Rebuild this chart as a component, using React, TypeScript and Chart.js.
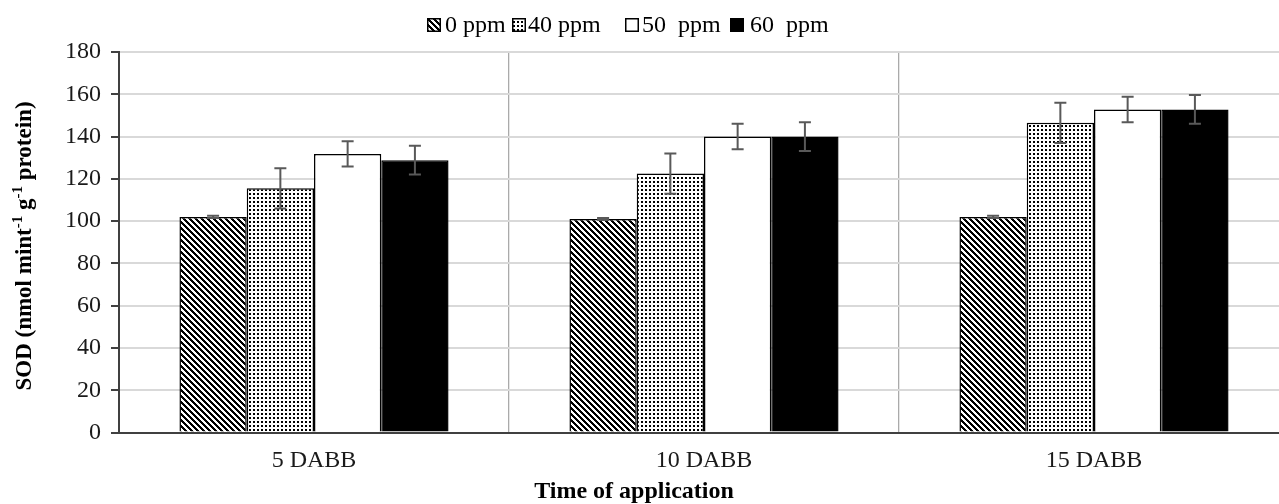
import React, { useEffect, useRef } from "react";
import { Chart, registerables } from "chart.js";

Chart.register(...registerables);

// ---------- data ----------
const categories = ["5 DABB", "10 DABB", "15 DABB"];
const seriesLabels = ["0 ppm", "40 ppm", "50  ppm", "60  ppm"];
const ppm0 = [102, 101, 102];
const ppm40 = [115.5, 122.5, 146.5];
const ppm50 = [131.8, 140, 152.8];
const ppm60 = [128.8, 140, 152.8];
const err0 = [0.5, 0.5, 0.5];
const err40 = [9.5, 9.5, 9.5];
const err50 = [6, 6, 6];
const err60 = [6.8, 6.8, 6.8];
const yMin = 0;
const yMax = 180;
const yStep = 20;
const xTitle = "Time of application";
const yTitleParts = [
  { t: "SOD (nmol mint", sup: false },
  { t: "-1", sup: true },
  { t: " g", sup: false },
  { t: "-1", sup: true },
  { t: " protein)", sup: false },
];

// ---------- layout constants ----------
const FONT = "'Liberation Serif', 'Times New Roman', serif";
const CANVAS_W = 1300;
const CANVAS_H = 504;
const LEGEND_BOX_X = [427, 512, 625, 730];
const LEGEND_TEXT_X = [445, 528, 642, 750];

function makeDiag(): HTMLCanvasElement {
  const p = 6;
  const c = document.createElement("canvas");
  c.width = p;
  c.height = p;
  const ctx = c.getContext("2d")!;
  const img = ctx.createImageData(p, p);
  for (let y = 0; y < p; y++) {
    for (let x = 0; x < p; x++) {
      const k = (((x - y) % p) + p) % p;
      const v = k < 3 ? 0 : 255;
      const i = (y * p + x) * 4;
      img.data[i] = v;
      img.data[i + 1] = v;
      img.data[i + 2] = v;
      img.data[i + 3] = 255;
    }
  }
  ctx.putImageData(img, 0, 0);
  return c;
}

function makeDots(): HTMLCanvasElement {
  const p = 4;
  const c = document.createElement("canvas");
  c.width = p;
  c.height = p;
  const ctx = c.getContext("2d")!;
  ctx.fillStyle = "#fff";
  ctx.fillRect(0, 0, p, p);
  ctx.fillStyle = "#000";
  ctx.fillRect(1, 1, 2, 2);
  return c;
}

export default function App() {
  const ref = useRef<HTMLCanvasElement | null>(null);

  useEffect(() => {
    const canvas = ref.current;
    if (!canvas) return;
    const pctx = document.createElement("canvas").getContext("2d")!;
    const diag = pctx.createPattern(makeDiag(), "repeat")!;
    const dots = pctx.createPattern(makeDots(), "repeat")!;
    const fills: any[] = [diag, dots, "#ffffff", "#000000"];
    const values = [ppm0, ppm40, ppm50, ppm60];
    const errors = [err0, err40, err50, err60];

    const overlay = {
      id: "overlay",
      afterDatasetsDraw(chart: any) {
        const ctx = chart.ctx;
        const ys = chart.scales.y;
        ctx.save();
        ctx.strokeStyle = "#595959";
        ctx.lineWidth = 2;
        chart.data.datasets.forEach((ds: any, i: number) => {
          const meta = chart.getDatasetMeta(i);
          meta.data.forEach((bar: any, j: number) => {
            const v = ds.data[j];
            const e = errors[i][j];
            const yt = ys.getPixelForValue(v + e);
            const yb = ys.getPixelForValue(v - e);
            const x = bar.x;
            ctx.beginPath();
            ctx.moveTo(x, yt);
            ctx.lineTo(x, yb);
            ctx.moveTo(x - 6, yt);
            ctx.lineTo(x + 6, yt);
            ctx.moveTo(x - 6, yb);
            ctx.lineTo(x + 6, yb);
            ctx.stroke();
          });
        });
        ctx.restore();
      },
      afterDraw(chart: any) {
        const ctx = chart.ctx;
        ctx.save();
        // legend
        ctx.font = `24px ${FONT}`;
        ctx.textBaseline = "alphabetic";
        ctx.textAlign = "left";
        chart.data.datasets.forEach((ds: any, i: number) => {
          const bx = LEGEND_BOX_X[i];
          ctx.fillStyle = fills[i];
          ctx.fillRect(bx, 18, 14, 14);
          ctx.strokeStyle = "#000";
          ctx.lineWidth = 1.5;
          ctx.strokeRect(bx + 0.75, 18.75, 12.5, 12.5);
          ctx.fillStyle = "#000";
          ctx.fillText(ds.label, LEGEND_TEXT_X[i], 32);
        });
        // x title
        ctx.font = `bold 24px ${FONT}`;
        ctx.textAlign = "center";
        ctx.fillText(xTitle, 634, 498);
        // y title with superscripts
        const big = `bold 23px ${FONT}`;
        const small = `bold 15px ${FONT}`;
        let total = 0;
        yTitleParts.forEach((p) => {
          ctx.font = p.sup ? small : big;
          total += ctx.measureText(p.t).width;
        });
        ctx.translate(31, 246);
        ctx.rotate(-Math.PI / 2);
        ctx.textAlign = "left";
        let x = -total / 2;
        yTitleParts.forEach((p) => {
          ctx.font = p.sup ? small : big;
          ctx.fillText(p.t, x, p.sup ? -9 : 0);
          x += ctx.measureText(p.t).width;
        });
        ctx.restore();
      },
    };

    const chart = new Chart(canvas, {
      type: "bar",
      data: {
        labels: categories,
        datasets: seriesLabels.map((label, i) => ({
          label,
          data: values[i],
          backgroundColor: fills[i],
          borderColor: "#000000",
          borderWidth: 1.5,
          categoryPercentage: 0.69,
          barPercentage: 1.0,
        })),
      },
      options: {
        responsive: false,
        animation: false,
        devicePixelRatio: 1,
        layout: { padding: { top: 52, right: 11, left: 0, bottom: 0 } },
        plugins: {
          legend: { display: false },
          tooltip: { enabled: false },
          title: { display: false },
        },
        scales: {
          x: {
            type: "category",
            offset: true,
            grid: {
              offset: true,
              color: "#aaaaaa",
              lineWidth: 1.3,
              drawTicks: false,
            },
            border: { color: "#404040", width: 2 },
            ticks: {
              color: "#1a1a1a",
              font: { family: FONT, size: 24 },
              padding: 14,
            },
            afterFit: (s: any) => {
              s.height = 71.5;
            },
          },
          y: {
            min: yMin,
            max: yMax,
            ticks: {
              stepSize: yStep,
              color: "#1a1a1a",
              font: { family: FONT, size: 24 },
              padding: 10,
            },
            grid: {
              color: "#d9d9d9",
              lineWidth: 2,
              tickLength: 8,
              tickColor: "#404040",
              tickWidth: 2,
            } as any,
            border: { color: "#404040", width: 2 },
            afterFit: (s: any) => {
              s.width = 119;
            },
          },
        },
      },
      plugins: [overlay],
    });
    return () => chart.destroy();
  }, []);

  return (
    <div
      style={{
        position: "fixed",
        left: 0,
        top: 0,
        width: 1279,
        height: CANVAS_H,
        overflow: "hidden",
        background: "#fff",
      }}
    >
      <canvas
        ref={ref}
        width={CANVAS_W}
        height={CANVAS_H}
        style={{ width: CANVAS_W, height: CANVAS_H, display: "block" }}
      />
    </div>
  );
}
